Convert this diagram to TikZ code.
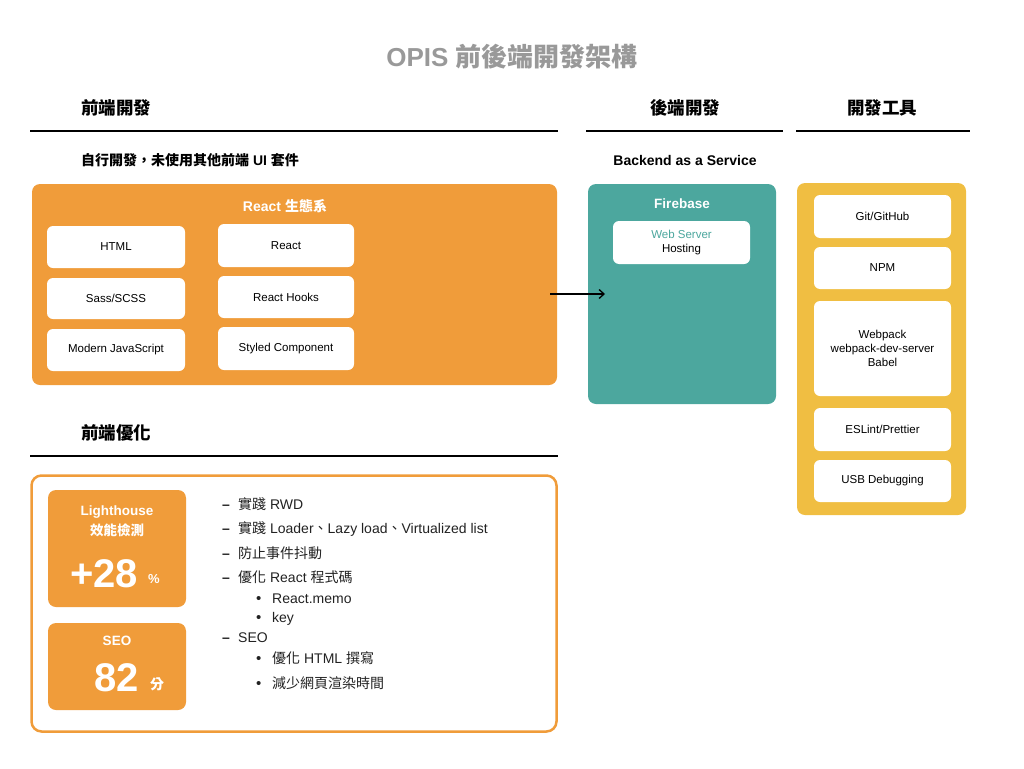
\documentclass[tikz,border=0pt]{standalone}
\usepackage{fontspec}
\setmainfont{Liberation Sans}
\newfontfamily\cjk{Noto Sans CJK TC}
\usetikzlibrary{arrows.meta}
\definecolor{orng}{RGB}{240,156,58}
\definecolor{teal2}{RGB}{76,167,158}
\definecolor{yel}{RGB}{240,190,66}
\definecolor{gry}{RGB}{153,153,153}
\definecolor{ink}{RGB}{34,34,34}
\tikzset{
  panel/.style={rounded corners=8pt, inner sep=0pt, draw=none},
  card/.style={fill=white, rounded corners=6pt, inner sep=0pt, draw=none, align=center,
    font=\fontsize{11.5}{14}\selectfont, text=black},
  head/.style={font=\fontsize{17.5}{20}\selectfont\bfseries, text=black},
  rule/.style={line width=1.8pt, black},
  sub/.style={font=\fontsize{14}{16}\selectfont\bfseries, text=black},
  ptitle/.style={font=\fontsize{14}{17}\selectfont\bfseries, text=white},
  item/.style={font=\fontsize{14}{17}\selectfont, text=ink, anchor=base west, inner sep=0pt},
}
\begin{document}
\begin{tikzpicture}[x=1pt,y=-1pt]
\useasboundingbox (0,0) rectangle (1024,768);
% title
\node[font=\fontsize{26}{30}\selectfont\bfseries, text=gry] (title) at (512,57) {OPIS {\cjk\bfseries 前後端開發架構}};
% headers
\node[head] (h1) at (116,108) {\cjk\bfseries 前端開發};
\node[head] (h2) at (685,108) {\cjk\bfseries 後端開發};
\node[head] (h3) at (882,108) {\cjk\bfseries 開發工具};
\coordinate (r1a) at (30,131); \coordinate (r1b) at (558,131);
\coordinate (r2a) at (586,131); \coordinate (r2b) at (783,131);
\coordinate (r3a) at (796,131); \coordinate (r3b) at (970,131);
\draw[rule] (r1a) -- (r1b);
\draw[rule] (r2a) -- (r2b);
\draw[rule] (r3a) -- (r3b);
\node[sub, anchor=west, inner sep=0pt] (s1) at (81,160) {{\cjk\bfseries 自行開發，未使用其他前端} UI {\cjk\bfseries 套件}};
\node[sub] (s2) at (685,160) {Backend as a Service};
% React panel
\node[panel, fill=orng, minimum width=525pt, minimum height=201pt] (react) at (294.5,284.5) {};
\node[ptitle] (rt) at (285,206) {React {\cjk\bfseries 生態系}};
\node[card, minimum width=138pt, minimum height=42pt] (html) at (116,247) {HTML};
\node[card, minimum width=138pt, minimum height=41pt] (sass) at (116,298.5) {Sass/SCSS};
\node[card, minimum width=138pt, minimum height=42pt] (mjs) at (116,350) {Modern JavaScript};
\node[card, minimum width=136pt, minimum height=43pt] (rct) at (286,245.5) {React};
\node[card, minimum width=136pt, minimum height=42pt] (hooks) at (286,297) {React Hooks};
\node[card, minimum width=136pt, minimum height=43pt] (styled) at (286,348.5) {Styled Component};
% Firebase panel
\node[panel, fill=teal2, minimum width=188pt, minimum height=220pt] (fb) at (682,294) {};
\node[ptitle, font=\fontsize{13.5}{16}\selectfont\bfseries] (fbt) at (682,204) {Firebase};
\node[card, minimum width=137pt, minimum height=43pt] (ws) at (681.5,242.5) {\textcolor{teal2}{Web Server}\\Hosting};
% arrow
\coordinate (aS) at (550,294);
\coordinate (aE) at (605,294);
\draw[line width=1.3pt, -{Straight Barb[length=5pt,width=9pt]}] (aS) -- (aE);
% tools panel
\node[panel, fill=yel, minimum width=169pt, minimum height=332pt] (tools) at (881.5,349) {};
\node[card, minimum width=137pt, minimum height=43pt] (git) at (882.5,216.5) {Git/GitHub};
\node[card, minimum width=137pt, minimum height=42pt] (npm) at (882.5,268) {NPM};
\node[card, minimum width=137pt, minimum height=95pt] (wp) at (882.5,348.5) {Webpack\\webpack-dev-server\\Babel};
\node[card, minimum width=137pt, minimum height=43pt] (esl) at (882.5,429.5) {ESLint/Prettier};
\node[card, minimum width=137pt, minimum height=42pt] (usb) at (882.5,481) {USB Debugging};
% optimisation
\node[head] (h4) at (116,433) {\cjk\bfseries 前端優化};
\coordinate (r4a) at (30,456); \coordinate (r4b) at (558,456);
\draw[rule] (r4a) -- (r4b);
\node[panel, draw=orng, line width=2.5pt, fill=white, rounded corners=10pt, minimum width=525pt, minimum height=256pt] (opt) at (294,603.5) {};
\node[panel, fill=orng, minimum width=138pt, minimum height=117pt] (lh) at (117,548.5) {};
\node[ptitle, font=\fontsize{13.5}{16}\selectfont\bfseries] (lht) at (117,512) {Lighthouse};
\node[ptitle, font=\fontsize{13.5}{16}\selectfont\bfseries] (lhc) at (117,530) {\cjk\bfseries 效能檢測};
\node[font=\fontsize{40}{44}\selectfont\bfseries, text=white] (n28) at (104,574) {+28};
\node[font=\fontsize{13}{15}\selectfont\bfseries, text=white] (pct) at (154,579) {\%};
\node[panel, fill=orng, minimum width=138pt, minimum height=87pt] (seo) at (117,666.5) {};
\node[ptitle, font=\fontsize{13.5}{16}\selectfont\bfseries] (seot) at (117,641) {SEO};
\node[font=\fontsize{40}{44}\selectfont\bfseries, text=white] (n82) at (117,678) {82};
\node[font=\fontsize{14}{16}\selectfont\bfseries, text=white] (fen) at (157,684) {\cjk\bfseries 分};
% list (baseline = centre + 5)
\foreach \y/\nm in {509/d1,533/d2,558/d3,582/d4,642/d5}{
  \node[item, font=\fontsize{14}{17}\selectfont\bfseries] (\nm) at (222,\y) {–};
}
\node[item] (t1) at (238,509) {{\cjk 實踐} RWD};
\node[item] (t2) at (238,533) {{\cjk 實踐} Loader{\cjk 、}Lazy load{\cjk 、}Virtualized list};
\node[item] (t3) at (238,558) {\cjk 防止事件抖動};
\node[item] (t4) at (238,582) {{\cjk 優化} React {\cjk 程式碼}};
\node[item] (t5) at (238,642) {SEO};
\foreach \y/\nm in {603/b1,622/b2,663/b3,688/b4}{
  \node[item, font=\fontsize{15}{17}\selectfont] (\nm) at (256,\y) {\textbullet};
}
\node[item] (u1) at (272,603) {React.memo};
\node[item] (u2) at (272,622) {key};
\node[item] (u3) at (272,663) {{\cjk 優化} HTML {\cjk 撰寫}};
\node[item] (u4) at (272,688) {\cjk 減少網頁渲染時間};
\end{tikzpicture}
\end{document}
